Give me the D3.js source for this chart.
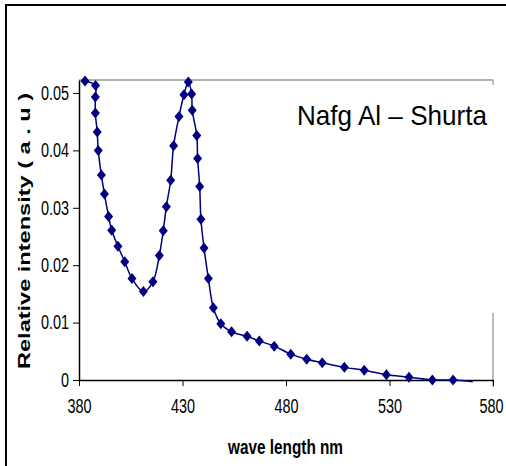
<!DOCTYPE html>
<html><head><meta charset="utf-8">
<script src="https://cdn.jsdelivr.net/npm/d3@7"></script>
<style>html,body{margin:0;padding:0;background:#fff;}svg{display:block;}</style>
</head><body>
<script>
// Data
const wavelength = [382.9,388.0,387.9,387.9,388.8,389.3,390.8,392.3,394.3,395.8,398.8,402.1,405.6,411.1,415.7,418.8,420.7,422.2,424.3,425.7,428.3,430.7,432.8,434.4,434.7,436.9,437.3,438.3,438.9,440.4,442.5,444.9,448.5,453.7,461.2,467.1,474.3,482.3,490.0,497.5,508.2,517.8,528.5,539.4,550.7,560.7,570.2];
const intensity  = [0.0521,0.0513,0.0493,0.0465,0.0432,0.0400,0.0357,0.0324,0.0285,0.0261,0.0233,0.0206,0.0177,0.0154,0.0171,0.0217,0.0260,0.0302,0.0348,0.0408,0.0459,0.0497,0.0519,0.0498,0.0470,0.0426,0.0386,0.0337,0.0280,0.0230,0.0177,0.0126,0.0098,0.0084,0.0076,0.0068,0.0059,0.0045,0.0036,0.0030,0.0022,0.0017,0.0009,0.0005,0.0000,0.0000,-0.0003];
const xTicks = [380,430,480,530,580];
const yTicks = [0,0.01,0.02,0.03,0.04,0.05];
const yTickLabels = ["0","0.01","0.02","0.03","0.04","0.05"];
const chartTitle = "Nafg Al \u2013 Shurta";
const xTitle = "wave length nm";
const yTitle = "Relative intensity ( a . u )";

const W = 506, H = 466;
const svg = d3.select("body").append("svg").attr("width", W).attr("height", H);

const x = d3.scaleLinear().domain([380, 580]).range([79, 493]);
const y = d3.scaleLinear().domain([0, 0.05226]).range([380, 80]);

// condense text horizontally (emulates a narrow typeface)
function narrow(sel, f) {
  sel.each(function () {
    const L = this.getComputedTextLength();
    d3.select(this).attr("textLength", L * f).attr("lengthAdjust", "spacingAndGlyphs");
  });
}

// outer frame
svg.append("rect").attr("x", 6).attr("y", 5).attr("width", 520).attr("height", 480)
  .attr("fill", "none").attr("stroke", "#000").attr("stroke-width", 2);

// plot area border (gray, partially visible)
svg.append("line").attr("x1", 79).attr("x2", 493).attr("y1", 80).attr("y2", 80)
  .attr("stroke", "#999").attr("stroke-width", 1.5);
svg.append("line").attr("x1", 493).attr("x2", 493).attr("y1", 80).attr("y2", 85)
  .attr("stroke", "#aaa").attr("stroke-width", 1.5);
svg.append("line").attr("x1", 493).attr("x2", 493).attr("y1", 313).attr("y2", 387)
  .attr("stroke", "#bbb").attr("stroke-width", 2);

const font = "'Liberation Sans', Arial, sans-serif";

// x axis
const xAxis = svg.append("g").attr("transform", "translate(0,380)")
  .call(d3.axisBottom(x).tickValues(xTicks).tickSize(6).tickSizeOuter(0).tickPadding(13).tickFormat(d3.format("d")));
xAxis.select(".domain").attr("stroke", "#000").attr("stroke-width", 1.5);
xAxis.selectAll(".tick line").attr("stroke", "#000");
xAxis.selectAll("text").attr("font-family", font).attr("font-size", 19.5).attr("fill", "#000").call(narrow, 0.74);
xAxis.selectAll(".tick").filter(d => d === 580).select("text").attr("dx", -2);

// y axis
const yAxis = svg.append("g").attr("transform", "translate(79,0)")
  .call(d3.axisLeft(y).tickValues(yTicks).tickSize(6).tickSizeOuter(0).tickPadding(4)
    .tickFormat((d, i) => yTickLabels[i]));
yAxis.select(".domain").attr("stroke", "#000").attr("stroke-width", 1.5);
yAxis.selectAll(".tick line").attr("stroke", "#000");
yAxis.selectAll("text").attr("font-family", font).attr("font-size", 19.5).attr("fill", "#000").call(narrow, 0.74);

// series
const pts = wavelength.map((w, i) => ({w, v: intensity[i]}));
const line = d3.line().x(d => x(d.w)).y(d => y(d.v)).curve(d3.curveCatmullRom.alpha(0.5));
svg.append("path").datum(pts).attr("d", line).attr("fill", "none")
  .attr("stroke", "#000080").attr("stroke-width", 1.5);

svg.selectAll(".mk").data(pts.filter(d => d.v >= 0)).enter().append("path")
  .attr("class", "mk")
  .attr("transform", d => `translate(${x(d.w)},${y(d.v)})`)
  .attr("d", "M0,-5.5 L4.5,0 L0,5.5 L-4.5,0 Z")
  .attr("fill", "#000080");

// titles
svg.append("text").attr("x", 297).attr("y", 125).text(chartTitle)
  .attr("font-family", font).attr("font-size", 28).attr("fill", "#000")
  .attr("textLength", 190).attr("lengthAdjust", "spacingAndGlyphs");

svg.append("text").attr("x", 285.5).attr("y", 454).attr("text-anchor", "middle").text(xTitle)
  .attr("font-family", font).attr("font-weight", "bold").attr("font-size", 21).attr("fill", "#000")
  .attr("textLength", 115).attr("lengthAdjust", "spacingAndGlyphs");

svg.append("text").attr("transform", "translate(30,231) rotate(-90)").attr("text-anchor", "middle")
  .text(yTitle).attr("font-family", font).attr("font-weight", "bold")
  .attr("font-size", 17).attr("fill", "#000")
  .attr("textLength", 276).attr("lengthAdjust", "spacingAndGlyphs");
</script>
</body></html>
